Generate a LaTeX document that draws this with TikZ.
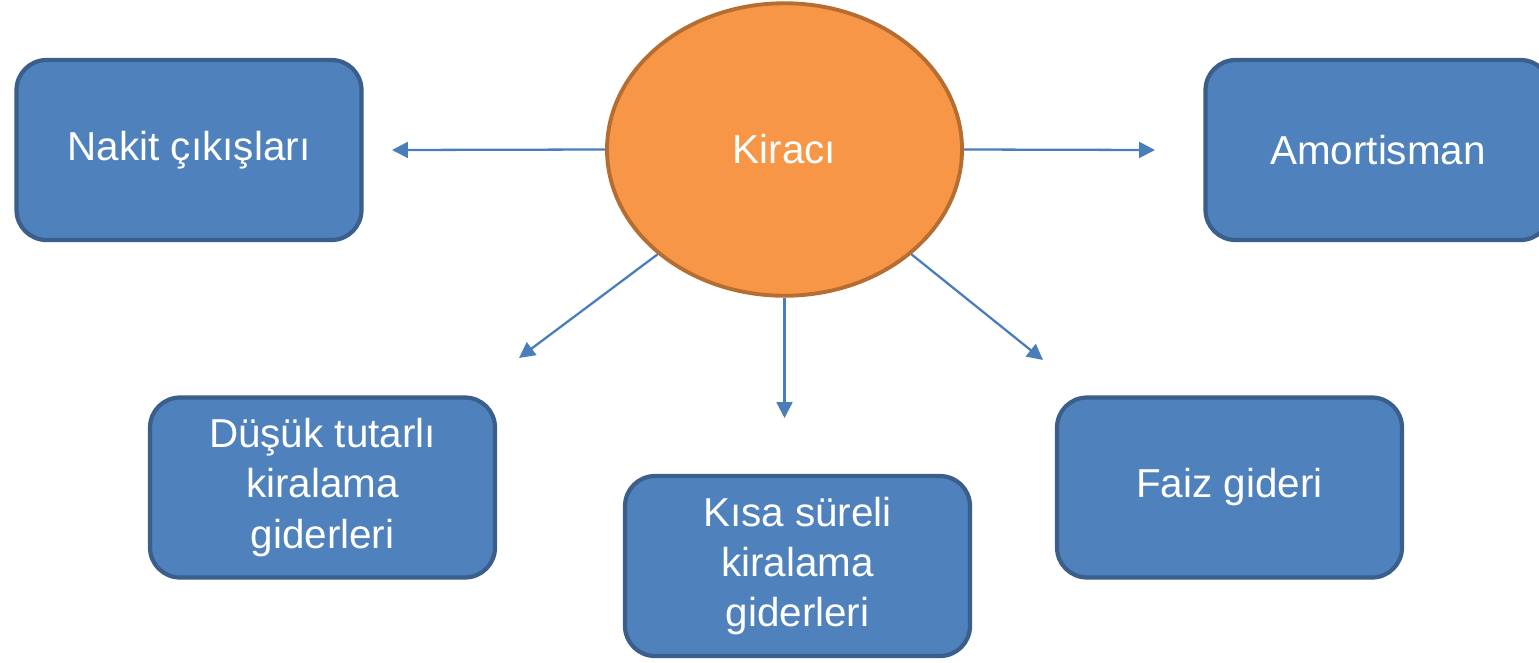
\documentclass[tikz,border=0pt]{standalone}
\usepackage{fontspec}
\setmainfont{Liberation Sans}
\usetikzlibrary{shapes.geometric,arrows.meta}
\definecolor{boxblue}{HTML}{4F81BD}
\definecolor{boxedge}{HTML}{3A5F8B}
\definecolor{ovalorange}{HTML}{F79646}
\definecolor{ovaledge}{HTML}{B66D31}
\definecolor{arrowblue}{HTML}{4A7EBB}
\begin{document}
\begin{tikzpicture}[
        itembox/.style={draw=boxedge, fill=boxblue, line width=2.4pt, rounded corners=0.6cm,
            minimum width=6.9cm, minimum height=3.6cm, text=white, align=center,
            font=\fontsize{23}{28.5}\selectfont},
        linkarrow/.style={draw=arrowblue, line width=1.3pt, -{Triangle[length=9pt,width=9pt]}}
    ]
        \useasboundingbox (0,0) rectangle (30.78,-13.24);

        % centre
        \node[ellipse, draw=ovaledge, fill=ovalorange, line width=2.2pt, text=white,
            minimum width=7.1cm, minimum height=5.85cm, inner sep=0pt,
            font=\fontsize{23}{28.5}\selectfont] (kiraci) at (15.69,-2.99) {Kiracı};

        % boxes
        \node[itembox] (nakit) at (3.78,-3.0) {Nakit çıkışları};
        \node[itembox] (amortisman) at (27.56,-3.0) {Amortisman};
        \node[itembox] (dusuk) at (6.45,-9.75) {Düşük tutarlı\\kiralama\\giderleri};
        \node[itembox] (kisa) at (15.95,-11.32) {Kısa süreli\\kiralama\\giderleri};
        \node[itembox] (faiz) at (24.59,-9.75) {Faiz gideri};

        % arrow ends
        \coordinate (tipnakit) at (7.84,-3.0);
        \coordinate (tipamortisman) at (23.1,-3.0);
        \coordinate (tipdusuk) at (10.38,-7.16);
        \coordinate (tipkisa) at (15.69,-8.36);
        \coordinate (tipfaiz) at (20.86,-7.2);

        % arrows
        \draw[linkarrow] (kiraci.west) -- (tipnakit);
        \draw[linkarrow] (kiraci.east) -- (tipamortisman);
        \draw[linkarrow] (kiraci.south west) -- (tipdusuk);
        \draw[linkarrow] (kiraci.south) -- (tipkisa);
        \draw[linkarrow] (kiraci.south east) -- (tipfaiz);
    \end{tikzpicture}
\end{document}
